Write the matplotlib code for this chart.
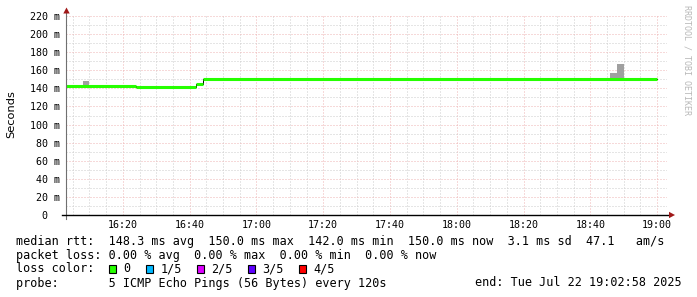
import matplotlib
matplotlib.use("Agg")
import matplotlib.pyplot as plt
from matplotlib.patches import Polygon, Rectangle
from matplotlib.ticker import MultipleLocator

# ---------------- data ----------------
# median RTT (ms): step changes (start time) and value, last sample ends at 19:00
median_start = ["16:02", "16:24", "16:42", "16:44"]
median_value = [143, 142, 145, 150]
median_end = "19:00"

# smoke (spread of individual pings), 2-minute bins
smoke_start = ["16:08", "18:46", "18:48"]
smoke_lo = [143, 150, 150]
smoke_hi = [148, 157, 167]
smoke_width_min = 2

x_ticks = ["16:20", "16:40", "17:00", "17:20", "17:40", "18:00", "18:20", "18:40", "19:00"]
y_ticks = [0, 20, 40, 60, 80, 100, 120, 140, 160, 180, 200, 220]

rtt_stats = ["148.3", "150.0", "142.0", "150.0", "3.1", "47.1"]
loss_stats = ["0.00", "0.00", "0.00", "0.00"]
loss_labels = ["0", "1/5", "2/5", "3/5", "4/5"]
loss_colors = ["#26ff00", "#00b8ff", "#dd00ff", "#5e00ff", "#ff0000"]
probe_text = "5 ICMP Echo Pings (56 Bytes) every 120s"
end_text = "end: Tue Jul 22 19:02:58 2025"
start_time = "16:02:58"
end_time = "19:02:58"


def tmin(s):
    p = [int(v) for v in s.split(":")]
    m = (p[0] - 16) * 60 + p[1]
    if len(p) > 2:
        m += p[2] / 60.0
    return m


W, H = 697, 297
MONO = "DejaVu Sans Mono"

fig = plt.figure(figsize=(W / 100, H / 100), dpi=100)
fig.patch.set_facecolor("white")


def fx(x):
    return x / W


def fy(y):
    return 1 - y / H


ax = fig.add_axes([fx(66), fy(215), (667 - 66) / W, (215 - 16) / H])
ax.set_facecolor("white")
ax.set_xlim(tmin(start_time), tmin(end_time))
ax.set_ylim(0, 220)

# grid
xt = [tmin(s) for s in x_ticks]
ax.set_xticks(xt)
ax.set_xticklabels(x_ticks, family=MONO, fontsize=7.2)
ax.xaxis.set_minor_locator(MultipleLocator(5))
ax.set_yticks(y_ticks)
ax.set_yticklabels(["0  " if v == 0 else f"{v} m" for v in y_ticks], family=MONO, fontsize=7.2)
ax.yaxis.set_minor_locator(MultipleLocator(10))
ax.tick_params(which="both", length=0)
ax.tick_params(axis="y", pad=4.3)
ax.tick_params(axis="x", pad=3.4)
ax.grid(which="major", color="#eeb4b4", linestyle=(0, (1, 2)), linewidth=0.72)
ax.grid(which="minor", color="#cdcdcd", linestyle=(0, (1, 2)), linewidth=0.72)
ax.set_axisbelow(True)
for sp in ax.spines.values():
    sp.set_visible(False)

# smoke
for s, lo, hi in zip(smoke_start, smoke_lo, smoke_hi):
    ax.bar(tmin(s), hi - lo, width=smoke_width_min, bottom=lo, align="edge",
           color="#a0a0a0", linewidth=0, zorder=3)

# median thin black step line
ts = [tmin(s) for s in median_start] + [tmin(median_end)]
vals = median_value + [median_value[-1]]
ax.step(ts, vals, where="post", color="#000000", linewidth=0.7, zorder=4)
# median coloured band (loss 0 -> green)
for i, v in enumerate(median_value):
    ax.hlines(v, ts[i], ts[i + 1], color=loss_colors[0], linewidth=2.2, zorder=5,
              capstyle="butt")

# axes lines with arrows
ax.plot([0, 0], [-4 / 199, 1 + 3 / 199], transform=ax.transAxes, color="#707070",
        linewidth=0.8, clip_on=False, zorder=6)
ax.plot([-4 / 601, 1 + 2 / 601], [0, 0], transform=ax.transAxes, color="#000000",
        linewidth=1.0, clip_on=False, zorder=6)
fig.add_artist(Polygon([[fx(66.5), fy(7.5)], [fx(63.3), fy(13.5)], [fx(69.7), fy(13.5)]],
                       closed=True, transform=fig.transFigure, color="#a01818", linewidth=0))
fig.add_artist(Polygon([[fx(675), fy(215)], [fx(669), fy(211.8)], [fx(669), fy(218.2)]],
                       closed=True, transform=fig.transFigure, color="#a01818", linewidth=0))

# y label
fig.text(fx(11), fy(114), "Seconds", rotation=90, ha="center", va="center",
         family="DejaVu Sans", fontsize=8.2, color="#000000")

# watermark
fig.text(fx(687), fy(60), "RRDTOOL / TOBI OETIKER", rotation=270, ha="center", va="center",
         family=MONO, fontsize=6, color="#b8b8b8")

# legend lines
fs = 8.5
line1 = ("median rtt:  {} ms avg  {} ms max  {} ms min  {} ms now  {} ms sd  {}   am/s"
         .format(*rtt_stats))
line2 = "packet loss: {} % avg  {} % max  {} % min  {} % now".format(*loss_stats)
fig.text(fx(16), fy(241), line1, ha="left", va="center", family=MONO, fontsize=fs)
fig.text(fx(16), fy(255), line2, ha="left", va="center", family=MONO, fontsize=fs)
fig.text(fx(16), fy(269), "loss color:", ha="left", va="center", family=MONO, fontsize=fs)
box_x = [108.5, 146, 196.5, 247.5, 298.5]
for bx, lab, col in zip(box_x, loss_labels, loss_colors):
    fig.add_artist(Rectangle((fx(bx), fy(273)), 7 / W, 8 / H, transform=fig.transFigure,
                             facecolor=col, edgecolor="#000000", linewidth=0.8))
    fig.text(fx(bx + 15), fy(269), lab, ha="left", va="center", family=MONO, fontsize=fs)
fig.text(fx(16), fy(283), "probe:       " + probe_text, ha="left", va="center",
         family=MONO, fontsize=fs)
fig.text(fx(682), fy(283), end_text, ha="right", va="center", family=MONO, fontsize=fs)

fig.savefig("out.png", dpi=100, facecolor="white")
